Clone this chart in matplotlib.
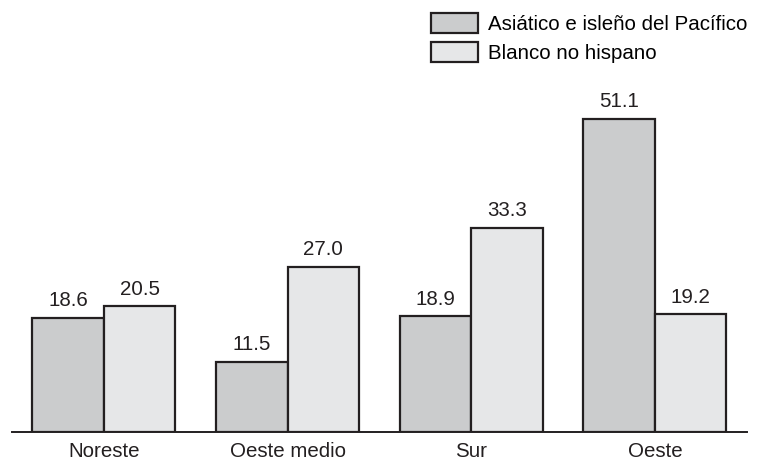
import matplotlib
matplotlib.use("Agg")
import matplotlib.pyplot as plt
import numpy as np
from matplotlib.patches import Patch

plt.rcParams['font.family'] = ['Liberation Sans', 'DejaVu Sans']

categories = ["Noreste", "Oeste medio", "Sur", "Oeste"]
series_names = ["Asiático e isleño del Pacífico", "Blanco no hispano"]
asian = [18.6, 11.5, 18.9, 51.1]
white = [20.5, 27.0, 33.3, 19.2]
colors = ["#cbcccd", "#e6e7e8"]

FS = 14.8

fig = plt.figure(figsize=(7.59, 4.61), dpi=100)
ax = fig.add_axes([0.0158, 0.0629, 0.968, 0.731])

x = np.arange(len(categories))
w = 0.39
b1 = ax.bar(x - w/2, asian, w, color=colors[0], edgecolor="#231f20", linewidth=1.6)
b2 = ax.bar(x + w/2, white, w, color=colors[1], edgecolor="#231f20", linewidth=1.6)
for bars, vals in ((b1, asian), (b2, white)):
    for r, v in zip(bars, vals):
        ax.text(r.get_x() + r.get_width()/2, v + 1.25, f"{v:.1f}", ha="center", va="bottom",
                fontsize=FS, color="#231f20")

ax.set_xlim(-0.5, 3.5)
ax.set_ylim(0, 55)
ax.set_xticks(x)
ax.set_xticklabels(categories, fontsize=FS, color="#231f20")
ax.tick_params(axis="x", length=0, pad=7)
ax.set_yticks([])
for s in ["top", "right", "left"]:
    ax.spines[s].set_visible(False)
ax.spines["bottom"].set_linewidth(1.4)
ax.spines["bottom"].set_color("#231f20")

handles = [Patch(facecolor=colors[0], edgecolor="#231f20", linewidth=1.6),
           Patch(facecolor=colors[1], edgecolor="#231f20", linewidth=1.6)]
fig.legend(handles, series_names, loc="upper left", bbox_to_anchor=(0.568, 0.972),
           frameon=False, fontsize=FS, handlelength=2.3, handleheight=1.1,
           handletextpad=0.48, labelspacing=0.42, borderaxespad=0, borderpad=0)

fig.savefig("out.png", dpi=100)
